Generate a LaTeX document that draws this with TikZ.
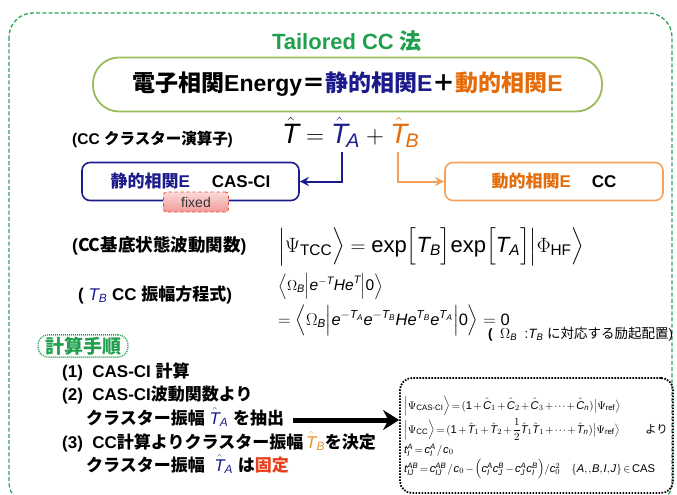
\documentclass[tikz,border=0pt]{standalone}
\usepackage{amsmath}
\usepackage{fontspec}
\setmainfont{Liberation Sans}
\newfontfamily\jp{Noto Sans CJK JP}
\usetikzlibrary{arrows.meta}
\definecolor{tgreen}{HTML}{1FA04C}
\definecolor{bgreen}{HTML}{2EA35A}
\definecolor{olivec}{HTML}{9BBB59}
\definecolor{navyc}{HTML}{1B1B8C}
\definecolor{orT}{HTML}{E46C0A}
\definecolor{orL}{HTML}{F4A25A}
\definecolor{orM}{HTML}{E8922E}
\definecolor{redf}{HTML}{E8401C}
\definecolor{pinkA}{HTML}{FBD9D9}
\definecolor{pinkB}{HTML}{F29A9A}
\newcommand\mi[1]{\mathit{#1}}
\newcommand\tightmath{\thickmuskip=2.5mu plus 1mu\medmuskip=2mu plus 1mu\thinmuskip=1.5mu}
\begin{document}
\begin{tikzpicture}[x=1pt,y=-1pt,
  lbl/.style={font=\bfseries\fontsize{17}{19}\selectfont, anchor=base west, inner sep=0pt},
  item/.style={font=\bfseries\fontsize{17}{19}\selectfont, anchor=base west, inner sep=0pt},
  sm/.style={font=\fontsize{11.2}{13}\selectfont\tightmath, anchor=base west, inner sep=0pt},
  catbox/.style={draw, line width=1.6pt, rounded corners=8pt, minimum height=38pt, font=\bfseries\fontsize{17}{19}\selectfont},
  conn/.style={line width=2pt, -{Stealth[length=9pt,width=9pt]}}]
\useasboundingbox (0,0) rectangle (677,495);
% outer border
\draw[bgreen, line width=1.3pt, dash pattern=on 4pt off 2.2pt, rounded corners=24pt] (9,13) rectangle (672,506);
% title
\node[font=\bfseries\fontsize{22}{24}\selectfont, text=tgreen] (title) at (347,41) {Tailored CC {\jp 法}};
% energy box
\node[draw=olivec, line width=1.8pt, rounded corners=26pt, minimum width=509pt, minimum height=54pt,
  font=\bfseries\fontsize{23}{26}\selectfont] (ebox) at (347.5,84.5)
  {{\jp 電子相関}Energy{\jp ＝}\textcolor{navyc}{{\jp 静的相関}E}{\jp ＋}\textcolor{orT}{{\jp 動的相関}E}};
% CC cluster operator
\node[lbl, font=\bfseries\fontsize{15.5}{18}\selectfont] (l1) at (72,144) {(CC {\jp クラスター演算子})};
\node[font=\fontsize{28}{30}\selectfont\tightmath, anchor=base west, inner sep=0pt] (teq) at (282,143)
  {$\hat{\mi{T}}\;=\;\textcolor{navyc}{\hat{\mi{T}}_{\!\mi{A}}}\;+\;\textcolor{orT}{\hat{\mi{T}}_{\!\mi{B}}}$};
\coordinate (ta) at (342,152);
\coordinate (tb) at (398,152);
\node[catbox, draw=navyc, minimum width=217pt] (sbox) at (190.5,181.5)
  {\textcolor{navyc}{{\jp 静的相関}E}\hspace{22pt}CAS-CI};
\node[catbox, draw=orL, minimum width=218pt] (dbox) at (554,181.5)
  {\textcolor{orT}{{\jp 動的相関}E}\hspace{21pt}CC};
\node[draw=redf, dashed, line width=0.8pt, rounded corners=3pt, top color=pinkA, bottom color=pinkB,
  minimum width=65pt, minimum height=20pt, inner sep=1pt, font=\fontsize{14}{16}\selectfont, text=black!80] (fixed) at (196,202) {fixed};
\draw[conn, navyc] (ta) |- (sbox.east);
\draw[conn, orL] (tb) |- (dbox.west);
% ground state wavefunction
\node[lbl, font=\bfseries\fontsize{17.5}{19}\selectfont] (l2) at (72,251) {({\jp CC基底状態波動関数})};
\node[font=\fontsize{22}{24}\selectfont, anchor=base west, inner sep=0pt] (psi) at (278,252)
  {$\Bigl|\Psi_{\text{TCC}}\Bigr\rangle=\mathrm{exp}\Bigl[\mi{T}_{\mi{B}}\Bigr]\mathrm{exp}\Bigl[\mi{T}_{\mi{A}}\Bigr]\Bigl|\Phi_{\text{HF}}\Bigr\rangle$};
% amplitude equation
\node[lbl] (l3) at (78,300) {( \textcolor{navyc}{$\mi{T}_{\mi{B}}$} CC {\jp 振幅方程式})};
\node[font=\fontsize{15.5}{17}\selectfont, anchor=base west, inner sep=0pt] (am1) at (278,290)
  {$\Bigl\langle\Omega_{\mi{B}}\Bigr|\mi{e}^{-\mi{T}}\mi{He}^{\mi{T}}\Bigl|\text{0}\Bigr\rangle$};
\node[font=\fontsize{16.5}{18}\selectfont, anchor=base west, inner sep=0pt] (am2) at (278,325)
  {$=\Bigl\langle\Omega_{\mi{B}}\Bigr|\mi{e}^{-\mi{T}_{\mi{A}}}\mi{e}^{-\mi{T}_{\mi{B}}}\mi{He}^{\mi{T}_{\mi{B}}}\mi{e}^{\mi{T}_{\mi{A}}}\Bigl|\text{0}\Bigr\rangle=\text{0}$};
\node[font=\fontsize{13.5}{15}\selectfont, anchor=base west, inner sep=0pt] (om) at (488,338)
  {\textbf{(}\ \ $\Omega_{\mi{B}}$\ \ :$\mi{T}_{\mi{B}}$\ {\jp に対応する励起配置})};
% procedure
\node[draw=tgreen, line width=1.3pt, dash pattern=on 1pt off 1pt, rounded corners=10pt, inner xsep=7pt, inner ysep=2pt,
  text=tgreen, font=\jp\bfseries\fontsize{19}{21}\selectfont] (proc) at (83,346) {計算手順};
\node[item] (s1) at (62,377) {(1)\ \ CAS-CI {\jp 計算}};
\node[item] (s2) at (62,400) {(2)\ \ CAS-CI{\jp 波動関数より}};
\node[item] (s2b) at (86,424) {{\jp クラスター振幅}\ \textcolor{navyc}{$\hat{\mi{T}}_{\mi{A}}$}\ {\jp を抽出}};
\node[item] (s3) at (62,448) {(3)\ \ CC{\jp 計算よりクラスター振幅}\,\textcolor{orM}{$\hat{\mi{T}}_{\mi{B}}$}{\jp を決定}};
\node[item] (s3b) at (86,471) {{\jp クラスター振幅}\ \ \textcolor{navyc}{$\hat{\mi{T}}_{\mi{A}}$}\ {\jp は}\textcolor{redf}{\jp 固定}};
% dotted box
\node[draw, line width=1.8pt, dash pattern=on 1.6pt off 1.4pt, rounded corners=12pt, minimum width=273pt, minimum height=115pt] (dot) at (536.5,435.5) {};
\draw[line width=5pt, -{Stealth[length=16pt,width=20pt]}] ([xshift=9pt,yshift=4pt]s2b.base east) -- ([yshift=4pt]s2b.base east -| dot.west);
\node[sm] (e1) at (404,409)
  {$\Bigl|\Psi_{\text{CAS-CI}}\Bigr\rangle=(\text{1}+\hat{\mi{C}}_1+\hat{\mi{C}}_2+\hat{\mi{C}}_3+\cdots+\hat{\mi{C}}_{\mi{n}})\bigl|\Psi_{\text{ref}}\bigr\rangle$};
\node[sm] (e2) at (404,433)
  {$\Bigl|\Psi_{\text{CC}}\Bigr\rangle=(\text{1}+\hat{\mi{T}}_1+\hat{\mi{T}}_2+\dfrac{1}{2}\hat{\mi{T}}_1\hat{\mi{T}}_1+\cdots+\hat{\mi{T}}_{\mi{n}})\bigl|\Psi_{\text{ref}}\bigr\rangle$};
\node[sm, font=\jp\fontsize{11.5}{13}\selectfont] (yori) at (645,433) {より};
\node[sm] (e3) at (404,453) {$\mi{t}_{\mi{I}}^{\mi{A}}=\mi{c}_{\mi{I}}^{\mi{A}}\,/\,\mi{c}_0$};
\node[sm] (e4) at (404,472)
  {$\mi{t}_{\mi{IJ}}^{\mi{AB}}=\mi{c}_{\mi{IJ}}^{\mi{AB}}\,/\,\mi{c}_0-\Bigl(\mi{c}_{\mi{I}}^{\mi{A}}\mi{c}_{\mi{J}}^{\mi{B}}-\mi{c}_{\mi{J}}^{\mi{A}}\mi{c}_{\mi{I}}^{\mi{B}}\Bigr)/\mi{c}_0^2\quad\{\mi{A},,\mi{B},\mi{I},\mi{J}\}\in\text{CAS}$};
\end{tikzpicture}
\end{document}
